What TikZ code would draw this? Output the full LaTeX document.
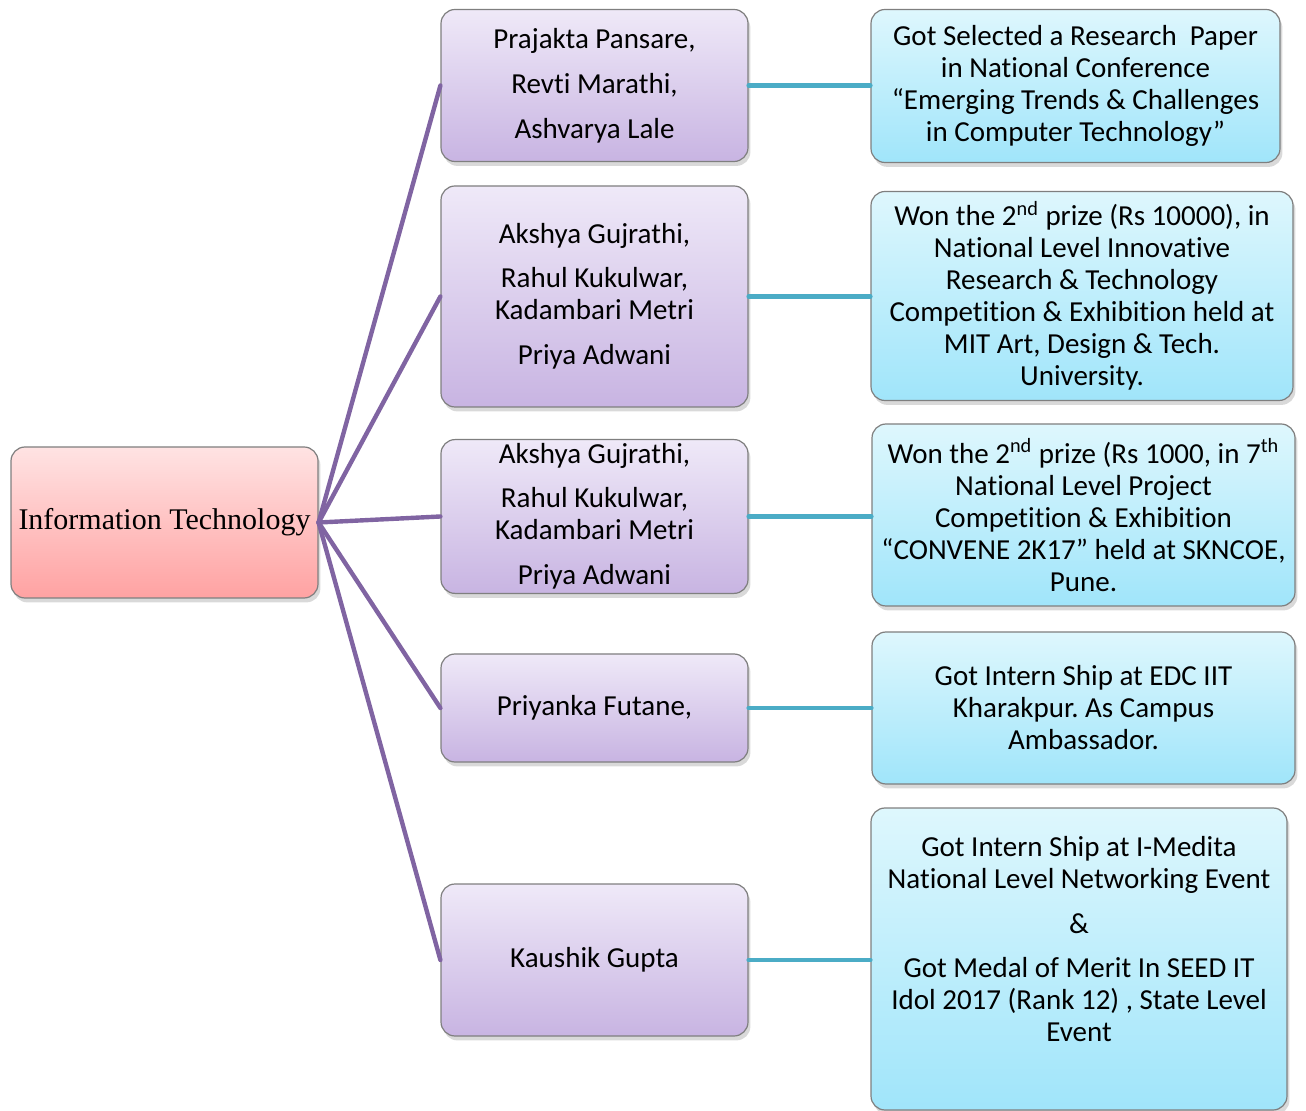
\documentclass[tikz,border=0pt]{standalone}
\usepackage{fontspec}
\setmainfont[Ligatures=NoCommon]{Carlito}
\newfontfamily\itfont{Liberation Serif}
\usetikzlibrary{shadows}
\frenchspacing
\definecolor{boxgray}{HTML}{7F7F7F}
\definecolor{rootTop}{HTML}{FFE3E3}
\definecolor{rootBot}{HTML}{FFA2A2}
\definecolor{nameTop}{HTML}{EFE9F8}
\definecolor{nameBot}{HTML}{C8B4E2}
\definecolor{prizeTop}{HTML}{DEF7FD}
\definecolor{prizeBot}{HTML}{A0E5FA}
\definecolor{itpurple}{HTML}{8064A2}
\definecolor{itteal}{HTML}{4BACC6}
\begin{document}
\begin{tikzpicture}[x=0.5pt,y=-0.5pt,line join=round,line cap=round,
	box/.style={draw=boxgray,line width=0.6pt,rounded corners=7pt,align=center,inner sep=2pt,
		font=\fontsize{14.5}{16}\selectfont,
		drop shadow={shadow xshift=1.2pt,shadow yshift=-2.2pt,opacity=0.3}},
	rootbox/.style={box,top color=rootTop,bottom color=rootBot,minimum width=153.5pt,minimum height=75.5pt,
		font=\itfont\fontsize{15}{16}\selectfont},
	namebox/.style={box,top color=nameTop,bottom color=nameBot,minimum width=153.5pt},
	prizebox/.style={box,top color=prizeTop,bottom color=prizeBot},
	branch/.style={draw=itpurple,line width=2.2pt},
	link/.style={draw=itteal,line width=2.2pt}]
	\useasboundingbox (0,0) rectangle (1306,1111);
	% root
	\path (164.5,522.5) node[rootbox] (IT) {Information Technology};
	% students
	\path
	(594.5,85.5) node[namebox,minimum height=76pt] (M1)
	{Prajakta Pansare,\\[6.5pt] Revti Marathi,\\[6.5pt] Ashvarya Lale}
	(594.5,296.5) node[namebox,minimum height=110.5pt] (M2)
	{Akshya Gujrathi,\\[6pt] Rahul Kukulwar,\\ Kadambari Metri\\[6.5pt] Priya Adwani}
	(594.5,516.5) node[namebox,minimum height=76.5pt] (M3)
	{Akshya Gujrathi,\\[6pt] Rahul Kukulwar,\\ Kadambari Metri\\[6.5pt] Priya Adwani}
	(594.5,708) node[namebox,minimum height=54pt] (M4) {Priyanka Futane,}
	(594.5,960) node[namebox,minimum height=76pt] (M5) {Kaushik Gupta}
	;
	% prizes
	\path
	(1075.5,86) node[prizebox,minimum width=204.5pt,minimum height=76.5pt] (R1)
	{Got Selected a Research~ Paper\\ in National Conference\\ “Emerging Trends \& Challenges\\ in Computer Technology”}
	(1082,296) node[prizebox,minimum width=211pt,minimum height=104.5pt] (R2)
	{Won the 2\textsuperscript{nd} prize (Rs 10000), in\\ National Level Innovative\\ Research \& Technology\\ Competition \& Exhibition held at\\ MIT Art, Design \& Tech.\\ University.}
	(1083.5,515) node[prizebox,minimum width=211.5pt,minimum height=91pt] (R3)
	{Won the 2\textsuperscript{nd} prize (Rs 1000, in 7\textsuperscript{th}\\ National Level Project\\ Competition \& Exhibition\\ “CONVENE 2K17” held at SKNCOE,\\ Pune.}
	(1083.5,708) node[prizebox,minimum width=211.5pt,minimum height=76pt] (R4)
	{Got Intern Ship at EDC IIT\\ Kharakpur. As Campus\\ Ambassador.}
	(1079,959) node[prizebox,minimum width=208pt,minimum height=151pt] (R5) {}
	(1079,939) node[align=center,font=\fontsize{14.5}{16}\selectfont] (R5text)
	{Got Intern Ship at I-Medita\\ National Level Networking Event\\[6.5pt] \&\\[6pt] Got Medal of Merit In SEED IT\\ Idol 2017 (Rank 12) , State Level\\ Event}
	;
	\foreach \m in {M1,M2,M3,M4,M5}
	\draw[branch] (IT.east) -- (\m.west);
	\foreach \m/\r in {M1/R1,M2/R2,M3/R3,M4/R4,M5/R5}
	\draw[link] (\m.east) -- (\r.west |- \m.east);
\end{tikzpicture}
\end{document}
